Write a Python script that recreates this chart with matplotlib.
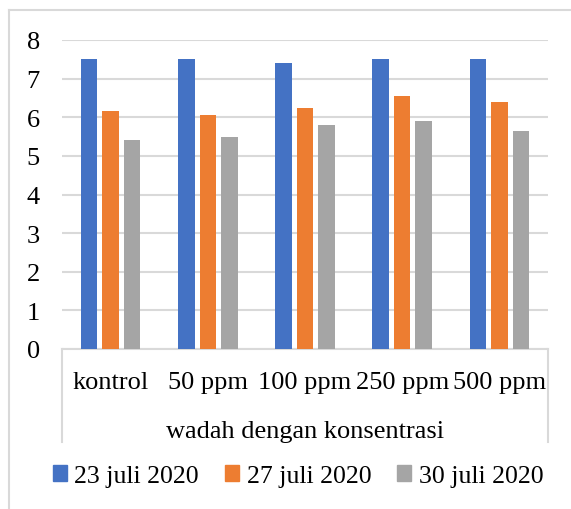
import matplotlib.pyplot as plt
import numpy as np
from matplotlib.lines import Line2D
from matplotlib.patches import Patch

plt.rcParams['font.family'] = ['Liberation Serif', 'DejaVu Serif']

categories = ['kontrol', '50 ppm', '100 ppm', '250 ppm', '500 ppm']
series = ['23 juli 2020', '27 juli 2020', '30 juli 2020']
jul23 = [7.5, 7.5, 7.4, 7.5, 7.5]
jul27 = [6.15, 6.05, 6.25, 6.55, 6.4]
jul30 = [5.4, 5.5, 5.8, 5.9, 5.65]
colors = ['#4472C4', '#ED7D31', '#A5A5A5']
grid_c = '#d9d9d9'

fig = plt.figure(figsize=(5.71, 5.1), dpi=100)
ax = fig.add_axes([62/571, 1 - 350/510, 486/571, 309/510])

x = np.arange(len(categories))
w = 0.17
step = 0.221
for i, vals in enumerate([jul23, jul27, jul30]):
    ax.bar(x + (i - 1)*step, vals, width=w, color=colors[i], zorder=3)

ax.set_xlim(-0.5, 4.5)
ax.set_ylim(0, 8)
ax.set_yticks(range(0, 9))
ax.yaxis.grid(True, color=grid_c, linewidth=1.5, zorder=0)
ax.set_axisbelow(True)
for s in ['top', 'right', 'left']:
    ax.spines[s].set_visible(False)
ax.spines['bottom'].set_color(grid_c)
ax.spines['bottom'].set_linewidth(1.5)

ax.set_xticks(x)
ax.set_xticklabels(categories)
ax.tick_params(axis='both', length=0, labelsize=19)
ax.tick_params(axis='x', pad=16)
ax.tick_params(axis='y', pad=16)
ax.set_xlabel('wadah dengan konsentrasi', fontsize=19, labelpad=19)

# box around category labels
for xa in [0, 1]:
    ax.plot([xa, xa], [0, -93/309], transform=ax.transAxes, color=grid_c,
            linewidth=1.5, clip_on=False)

# outer chart frame
fig.add_artist(Line2D([9/571, 9/571], [0, 1 - 11/510], color=grid_c,
                      linewidth=1.5, transform=fig.transFigure))
fig.add_artist(Line2D([9/571, 1], [1 - 11/510, 1 - 11/510], color=grid_c,
                      linewidth=1.5, transform=fig.transFigure))

handles = [Patch(color=c) for c in colors]
fig.legend(handles, series, loc='center', ncol=3, frameon=False,
           bbox_to_anchor=(298/571, 1 - 477/510), fontsize=18.5,
           handlelength=0.55, handleheight=0.55, handletextpad=0.3,
           columnspacing=1.0)

fig.savefig('out.png', dpi=100)
